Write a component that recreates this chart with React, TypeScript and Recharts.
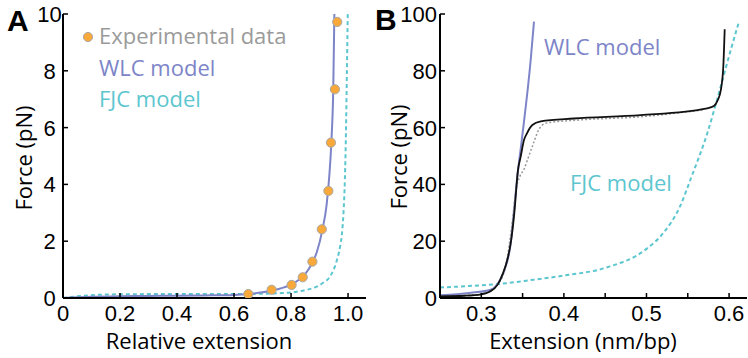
import React from 'react';
import { ComposedChart, Line, Scatter, XAxis, YAxis } from 'recharts';

// ---------- Panel A data ----------
const expExtA = [0.65, 0.732, 0.802, 0.841, 0.875, 0.908, 0.931, 0.94, 0.954, 0.962];
const expForceA = [0.14, 0.29, 0.46, 0.73, 1.28, 2.42, 3.77, 5.47, 7.35, 9.72];
const wlcExtA = [0, 0.1, 0.2, 0.3, 0.4, 0.5, 0.6, 0.65, 0.7, 0.75, 0.8, 0.83, 0.85, 0.87, 0.89, 0.91, 0.925, 0.935, 0.942, 0.948, 0.952];
const wlcForceA = [0, 0.04, 0.06, 0.07, 0.08, 0.09, 0.11, 0.14, 0.2, 0.3, 0.47, 0.66, 0.85, 1.15, 1.6, 2.4, 3.3, 4.4, 5.6, 7.3, 10];
const fjcExtA = [0, 0.05, 0.1, 0.2, 0.4, 0.6, 0.7, 0.76, 0.82, 0.86, 0.89, 0.91, 0.937, 0.96, 0.972, 0.978, 0.984, 0.989, 0.993, 0.996, 0.999];
const fjcForceA = [0, 0.06, 0.1, 0.13, 0.14, 0.14, 0.15, 0.17, 0.22, 0.3, 0.4, 0.52, 0.76, 1.3, 1.8, 2.2, 3.0, 4.2, 6.0, 8.0, 10];
const xTicksA = [0, 0.2, 0.4, 0.6, 0.8, 1.0];
const yTicksA = [0, 2, 4, 6, 8, 10];

// ---------- Panel B data ----------
const wlcExtB = [0.25, 0.27, 0.29, 0.3105, 0.3226, 0.3307, 0.335, 0.338, 0.3436, 0.349, 0.3598, 0.3638];
const wlcForceB = [1.0, 1.3, 1.9, 2.8, 6.3, 12.2, 18, 26, 42.7, 55.6, 83.8, 97.3];
const expExtB = [0.25, 0.28, 0.3, 0.31, 0.32, 0.326, 0.332, 0.336, 0.34, 0.3444, 0.3477, 0.3517, 0.355, 0.3618, 0.372, 0.412, 0.493, 0.5736, 0.5817, 0.586, 0.59, 0.593, 0.5947];
const expForceB = [0.6, 0.8, 1.3, 2.2, 4.8, 8.5, 14, 20, 30, 45, 49.8, 55.6, 57.8, 60.9, 62.2, 63.2, 64.4, 66.8, 67.6, 69.5, 73.2, 81.4, 94.6];
const dotExtB = [0.25, 0.3, 0.32, 0.33, 0.338, 0.342, 0.347, 0.352, 0.3557, 0.3638, 0.37, 0.379, 0.4195, 0.492, 0.57];
const dotForceB = [0.6, 1.3, 4.8, 12, 28, 38, 43, 45.5, 48.5, 55, 59.5, 61.6, 62.7, 63.8, 66.3];
const fjcExtB = [0.25, 0.29, 0.32, 0.36, 0.4, 0.45, 0.5, 0.521, 0.541, 0.5535, 0.5736, 0.5898, 0.602, 0.612];
const fjcForceB = [3.7, 4.3, 4.9, 6.3, 7.9, 10.6, 17.3, 23.1, 32.5, 41.9, 58, 74.4, 87.3, 97.3];
const xTicksB = [0.3, 0.35, 0.4, 0.45, 0.5, 0.55, 0.6];
const yTicksB = [0, 20, 40, 60, 80, 100];

const zip = (xs: number[], ys: number[]) => xs.map((x, i) => ({ x, y: ys[i] }));

const FONT = '"Open Sans", sans-serif';
const TICKFONT = '"Liberation Sans", Arial, sans-serif';
const FS = 22;
const PURPLE = '#7d85c8';
const TEAL = '#5cc6cf';
const ORANGE = '#f9a93a';
const GRAYTXT = '#9a9a9a';

const makeYTick = (mode: 'A' | 'B') => (props: any) => {
  const { x, y, payload } = props;
  const tx = mode === 'A' ? x - 13.5 : x - 3;
  return (
    <g>
      <line x1={x} x2={x + 5} y1={y} y2={y} stroke="#000" strokeWidth={1.5} />
      <text x={tx} y={y + 7.9} textAnchor={mode === 'A' ? 'middle' : 'end'} fontFamily={TICKFONT} fontSize={FS} fill="#000">
        {payload.value}
      </text>
    </g>
  );
};

const makeXTick = (mode: 'A' | 'B') => (props: any) => {
  const { x, y, payload } = props;
  const v: number = payload.value;
  let label = '';
  if (mode === 'A') label = v === 0 ? '0' : v.toFixed(1);
  else if (Math.abs(v * 10 - Math.round(v * 10)) < 1e-6) label = v.toFixed(1);
  return (
    <g>
      <line x1={x} x2={x} y1={y - 5} y2={y} stroke="#000" strokeWidth={1.5} />
      {label && (
        <text x={x} y={y + 23} textAnchor="middle" fontFamily={TICKFONT} fontSize={FS} fill="#000">
          {label}
        </text>
      )}
    </g>
  );
};

const Dot = (props: any) => (
  <circle cx={props.cx} cy={props.cy} r={4.6} fill={ORANGE} stroke="#a8a8a8" strokeWidth={1} />
);

const axisLine = { stroke: '#000', strokeWidth: 2 };

export default function App() {
  return (
    <div style={{ position: 'absolute', left: 0, top: 0, width: 748, height: 358, background: '#fff' }}>
      <div style={{ position: 'absolute', left: 0, top: 0 }}>
        <ComposedChart width={374} height={358} margin={{ top: 14, right: 8, bottom: 0, left: 13 }}>
          <XAxis
            type="number"
            dataKey="x"
            domain={[0, 1.063]}
            allowDataOverflow
            ticks={xTicksA}
            interval={0}
            tickSize={0}
            tickMargin={0}
            height={60}
            axisLine={axisLine}
            tickLine={false}
            tick={makeXTick('A')}
          />
          <YAxis
            type="number"
            dataKey="y"
            domain={[0, 10]}
            allowDataOverflow
            ticks={yTicksA}
            interval={0}
            tickSize={0}
            tickMargin={0}
            width={50}
            axisLine={axisLine}
            tickLine={false}
            tick={makeYTick('A')}
          />
          <Line data={zip(fjcExtA, fjcForceA)} dataKey="y" type="monotone" stroke={TEAL} strokeWidth={2} strokeDasharray="4 3" dot={false} isAnimationActive={false} />
          <Line data={zip(wlcExtA, wlcForceA)} dataKey="y" type="monotone" stroke={PURPLE} strokeWidth={2} dot={false} isAnimationActive={false} />
          <Scatter data={zip(expExtA, expForceA)} dataKey="y" shape={Dot} isAnimationActive={false} />
        </ComposedChart>
      </div>
      <div style={{ position: 'absolute', left: 374, top: 0 }}>
        <ComposedChart width={374} height={358} margin={{ top: 14, right: 1, bottom: 0, left: 16 }}>
          <XAxis
            type="number"
            dataKey="x"
            domain={[0.25, 0.6217]}
            allowDataOverflow
            ticks={xTicksB}
            interval={0}
            tickSize={0}
            tickMargin={0}
            height={60}
            axisLine={axisLine}
            tickLine={false}
            tick={makeXTick('B')}
          />
          <YAxis
            type="number"
            dataKey="y"
            domain={[0, 100]}
            allowDataOverflow
            ticks={yTicksB}
            interval={0}
            tickSize={0}
            tickMargin={0}
            width={50}
            axisLine={axisLine}
            tickLine={false}
            tick={makeYTick('B')}
          />
          <Line data={zip(fjcExtB, fjcForceB)} dataKey="y" type="monotone" stroke={TEAL} strokeWidth={2} strokeDasharray="4 3" dot={false} isAnimationActive={false} />
          <Line data={zip(wlcExtB, wlcForceB)} dataKey="y" type="monotone" stroke={PURPLE} strokeWidth={2} dot={false} isAnimationActive={false} />
          <Line data={zip(dotExtB, dotForceB)} dataKey="y" type="monotone" stroke="#9a9a9a" strokeWidth={1.5} strokeDasharray="2 2" dot={false} isAnimationActive={false} />
          <Line data={zip(expExtB, expForceB)} dataKey="y" type="monotone" stroke="#111" strokeWidth={1.8} dot={false} isAnimationActive={false} />
        </ComposedChart>
      </div>
      <svg width={748} height={358} style={{ position: 'absolute', left: 0, top: 0, pointerEvents: 'none' }}>
        <g fontFamily={FONT} fontSize={FS}>
          <text x={7} y={31} fontFamily={TICKFONT} fontSize={30} fontWeight={700} fill="#000">A</text>
          <text x={375} y={30} fontFamily={TICKFONT} fontSize={30} fontWeight={700} fill="#000">B</text>
          <circle cx={88} cy={37} r={4.6} fill={ORANGE} stroke="#a8a8a8" strokeWidth={1} />
          <text x={99} y={44} fill={GRAYTXT}>Experimental data</text>
          <text x={99} y={76} fill={PURPLE}>WLC model</text>
          <text x={99} y={107} fill={TEAL}>FJC model</text>
          <text x={544} y={55} fill={PURPLE}>WLC model</text>
          <text x={570} y={191} fill={TEAL}>FJC model</text>
          <text x={199} y={349} textAnchor="middle" fill="#000">Relative extension</text>
          <text x={583} y={349} textAnchor="middle" fill="#000">Extension (nm/bp)</text>
          <text transform="translate(32,158) rotate(-90)" textAnchor="middle" fill="#000">Force (pN)</text>
          <text transform="translate(406.5,157) rotate(-90)" textAnchor="middle" fill="#000">Force (pN)</text>
        </g>
      </svg>
    </div>
  );
}
